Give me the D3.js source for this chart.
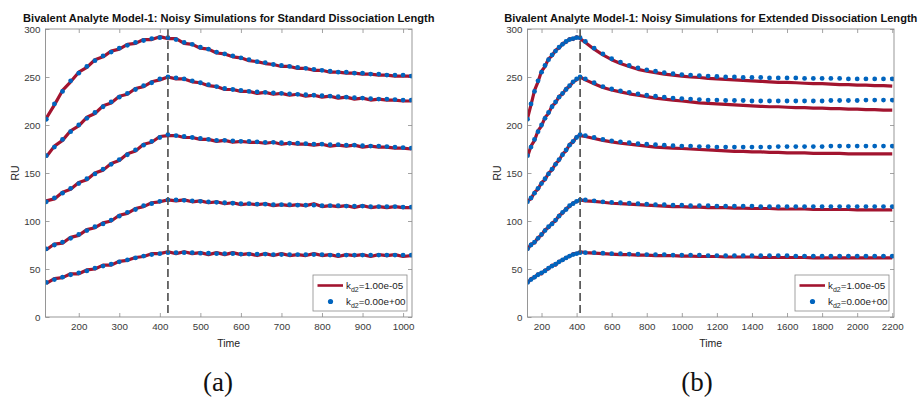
<!DOCTYPE html>
<html><head><meta charset="utf-8">
<script src="https://cdn.jsdelivr.net/npm/d3@7"></script>
<style>body{margin:0;background:#fff}svg{display:block}</style>
</head><body>
<svg id="c" width="920" height="403"></svg>
<script>
// ---------------- DATA ----------------
const yTicks = [0, 50, 100, 150, 200, 250, 300];
const xTicksStd = [200, 300, 400, 500, 600, 700, 800, 900, 1000];
const xTicksExt = [200, 400, 600, 800, 1000, 1200, 1400, 1600, 1800, 2000, 2200];
const injectionStop = 420;
const titleStd = "Bivalent Analyte Model-1: Noisy Simulations for Standard Dissociation Length";
const titleExt = "Bivalent Analyte Model-1: Noisy Simulations for Extended Dissociation Length";
const legendKd2 = ["1.00e-05", "0.00e+00"];
const captions = ["(a)", "(b)"];

// time points, standard dissociation length
const tStd = [120,140,160,180,200,220,240,260,280,300,320,340,360,380,400,420,440,460,480,500,520,540,560,580,600,620,640,660,680,700,720,740,760,780,800,820,840,860,880,900,920,940,960,980,1000,1020];
// kd2 = 1.00e-05 (red line), standard
const std1Red = [207,221,236,245,255,260,268,271,277,279,284,285,289,289,292,290,290,285,284,280,279,275,274,271,270,267,266,264,263,261,261,259,259,257,257,255,255,254,254,253,253,252,252,251,251,251];
const std2Red = [167,178,184,194,199,208,212,220,223,230,232,238,240,245,247,250,248,248,245,244,241,240,237,237,235,235,233,234,232,233,231,232,230,231,229,230,228,229,227,228,226,227,226,226,225,225];
const std3Red = [121,123,130,133,140,143,150,153,160,163,170,173,180,182,188,189,189,187,187,185,185,183,184,182,183,182,182,181,182,180,181,180,180,179,180,178,179,178,179,177,178,177,177,176,176,175];
const std4Red = [70,76,77,83,85,91,93,98,100,106,108,113,115,119,120,122,121,122,120,121,119,120,118,119,117,118,117,118,116,117,116,117,116,118,115,116,115,116,114,116,114,115,114,115,114,114];
const std5Red = [35,40,41,45,45,49,50,54,54,58,59,62,63,66,66,68,66,68,66,67,65,67,65,67,65,66,64,66,64,66,64,65,64,66,64,65,63,65,64,65,63,65,64,65,63,64];
// kd2 = 0.00e+00 (blue dots), standard
const std1Blue = [206,222,235,246,254,261,267,272,276,280,283,286,288,290,291,291,289,286,284,281,279,276,274,272,270,268,266,265,263,262,261,260,259,258,257,256,255,255,254,254,253,253,252,252,252,251];
const std2Blue = [168,177,185,193,200,207,213,219,224,229,233,237,241,244,248,250,249,248,246,244,242,240,238,237,236,235,234.5,234,233.5,233,232.5,232,231.5,231,230.5,230,229.5,229,228.5,228,227.5,227,227,226.5,226,226];
const std3Blue = [120,124,129,134,139,144,149,154,159,164,169,174,179,183,187,190,189,188,187,186,185,184,184,183.5,183,183,182.5,182,182,181.5,181,181,180.5,180,180,179.5,179.5,179,179,178.5,178,178,177.5,177,176.5,176];
const std4Blue = [71,75,78,82,86,90,94,97,101,105,109,112,116,118,120.5,122,122,121.5,121,120.5,120,119.5,119,118.5,118,118,117.5,117.5,117,117,117,116.5,116.5,116.5,116,116,116,115.5,115.5,115.5,115,115,115,115,114.5,114.5];
const std5Blue = [36,39,41.5,44,46,48,51,53,55,57.5,59.5,61.5,63.5,65,66,67,67,67,67,66.5,66.5,66,66,66,65.5,65.5,65.5,65.5,65,65,65,65,65,65,65,64.5,64.5,64.5,64.5,64.5,64.5,64.5,64.5,64.5,64.5,64.5];

// time points, extended dissociation length
const tExt = [120,140,160,180,200,220,240,260,280,300,320,340,360,380,400,420,450,500,550,600,650,700,750,800,850,900,950,1000,1050,1100,1150,1200,1250,1300,1350,1400,1450,1500,1550,1600,1650,1700,1750,1800,1850,1900,1950,2000,2050,2100,2150,2200];
// kd2 = 1.00e-05 (red line), extended
const ext1Red = [207,221,236,245,256,261,269,272,278,280,285,286,290,289,292,290,286,279,273,268,264,261,258,256,254.5,253,252,251,250,249.5,248.5,248,247.5,247,246.5,246,245.5,245,244.5,244.5,244,243.5,243,243,242.5,242,242,241.5,241.5,241,241,240.5];
const ext2Red = [167,178,184,194,199,208,212,220,223,230,232,238,240,245,247,250,247,243,239,236.5,234.5,232.5,231,229.5,228,227,226,225,224,223,222.5,222,221.5,221,220.5,220,219.5,219,219,218.5,218,218,217.5,217.5,217,217,216.5,216.5,216,216,215.5,215.5];
const ext3Red = [121,123,130,133,140,143,150,153,160,163,170,173,180,182,188,189,188,186,184,182.5,181,180,179,178,177,176.5,176,175.5,175,174.5,174,173.5,173,172.5,172.5,172,172,171.5,171.5,171,171,171,170.5,170.5,170.5,170.5,170,170,170,170,170,170];
const ext4Red = [70,76,77,83,85,91,93,98,100,106,108,113,115,119,120,122,121,120.5,119.5,118.5,118,117.5,117,116.5,116,115.5,115,115,114.5,114.5,114,114,114,113.5,113.5,113,113,113,112.5,112.5,112.5,112.5,112,112,112,112,112,111.5,111.5,111.5,111.5,111.5];
const ext5Red = [35,40,41,45,45,49,50,54,54,58,59,62,63,66,66,68,67,66.5,66,65.5,65,65,64.5,64.5,64,64,64,63.5,63.5,63,63,63,62.5,62.5,62.5,62.5,62,62,62,62,62,62,61.5,61.5,61.5,61.5,61.5,61.5,61.5,61.5,61.5,61.5];
// kd2 = 0.00e+00 (blue dots), extended
const ext1Blue = [206,222,235,246,255,262,268,273,277,281,284,287,289,290,291,291,287,280,274,269,265.5,262,259.5,257.5,256,254.5,253.5,252.5,252,251.5,251,250.5,250,250,249.5,249.5,249.5,249,249,249,249,248.5,248.5,248.5,248.5,248.5,248,248,248,248,248,248];
const ext2Blue = [168,177,185,193,200,207,213,219,224,229,233,237,241,245,248,250,248,244,240,237.5,235.5,234,232.5,231,230,229,228,227.5,227,226.5,226,226,225.5,225.5,225.5,225,225,225,225,225,225,225,225,225,225.5,225.5,225.5,225.5,226,226,226,226];
const ext3Blue = [120,124,129,134,139,144,149,154,159,164,169,174,179,183,187,190,189,187,185,183.5,182.5,181.5,180.5,180,179.5,179,178.5,178,178,177.5,177.5,177,177,177,177,177,177,177,177.5,177.5,177.5,177.5,177.5,177.5,178,178,178,178,178,178,178,178];
const ext4Blue = [71,75,78,82,86,90,94,97,101,105,109,112,116,118,120.5,122,122,121,120,119.5,119,118.5,118,117.5,117,117,116.5,116.5,116,116,116,115.5,115.5,115.5,115.5,115.5,115,115,115,115,115,115,115,115,115,115,115,115,115,115,115,115];
const ext5Blue = [36,39,41.5,44,46,48,51,53,55,57.5,59.5,61.5,63.5,65,66,67,67,67,66.5,66,66,65.5,65.5,65,65,65,64.5,64.5,64.5,64.5,64,64,64,64,64,64,64,64,64,64,63.5,63.5,63.5,63.5,63.5,63.5,63.5,63.5,63.5,63.5,63.5,63.5];

// ---------------- STYLE ----------------
const RED = "#A2142F", BLUE = "#0064BE";
const SANS = "'Liberation Sans', Arial, Helvetica, sans-serif";
const AXIS = "#8c8c8c", TXT = "#3a3a3a";

const svg = d3.select("#c");

function drawPanel(p) {
  const x = d3.scaleLinear().domain(p.domain).range([p.x0, p.x1]);
  const y = d3.scaleLinear().domain([0, 300]).range([p.y1, p.y0]);
  const g = svg.append("g");
  const fmt = d3.format("d");

  const styleAxis = sel => {
    sel.select(".domain").remove();
    sel.selectAll(".tick line").attr("stroke", AXIS).attr("stroke-width", 0.8);
    sel.selectAll(".tick text").attr("fill", TXT).style("font-family", SANS).style("font-size", "9.8px");
  };
  g.append("g").attr("transform", `translate(0,${p.y1})`)
    .call(d3.axisBottom(x).tickValues(p.xTicks).tickFormat(fmt).tickSizeInner(-4).tickSizeOuter(0).tickPadding(6)).call(styleAxis);
  g.append("g").attr("transform", `translate(0,${p.y0})`)
    .call(d3.axisTop(x).tickValues(p.xTicks).tickSizeInner(-4).tickSizeOuter(0).tickFormat(() => "")).call(styleAxis);
  g.append("g").attr("transform", `translate(${p.x0},0)`)
    .call(d3.axisLeft(y).tickValues(yTicks).tickFormat(fmt).tickSizeInner(-4).tickSizeOuter(0).tickPadding(5)).call(styleAxis);
  g.append("g").attr("transform", `translate(${p.x1},0)`)
    .call(d3.axisRight(y).tickValues(yTicks).tickSizeInner(-4).tickSizeOuter(0).tickFormat(() => "")).call(styleAxis);

  const clipId = "clip" + p.id;
  svg.append("clipPath").attr("id", clipId).append("rect")
    .attr("x", p.x0).attr("y", p.y0).attr("width", p.x1 - p.x0).attr("height", p.y1 - p.y0);
  const plot = g.append("g").attr("clip-path", `url(#${clipId})`);

  const line = d3.line().x((d, i) => x(p.times[i])).y(d => y(d));
  p.red.forEach(arr => {
    plot.append("path").datum(arr).attr("d", line)
      .attr("fill", "none").attr("stroke", RED).attr("stroke-width", 3.2).attr("stroke-linejoin", "round");
  });
  p.blue.forEach(arr => {
    plot.append("g").selectAll("circle").data(arr).join("circle")
      .attr("cx", (d, i) => x(p.times[i])).attr("cy", d => y(d)).attr("r", 2.4).attr("fill", BLUE);
  });

  // end of association phase
  plot.append("line").attr("x1", x(injectionStop)).attr("x2", x(injectionStop))
    .attr("y1", y(300)).attr("y2", y(0))
    .attr("stroke", "#555").attr("stroke-width", 1.7).attr("stroke-dasharray", "8,4");

  // frame
  g.append("rect").attr("x", p.x0).attr("y", p.y0).attr("width", p.x1 - p.x0).attr("height", p.y1 - p.y0)
    .attr("fill", "none").attr("stroke", AXIS).attr("stroke-width", 0.9);

  // title
  const t = g.append("text").attr("x", (p.x0 + p.x1) / 2).attr("y", 22).attr("text-anchor", "middle")
    .style("font-family", SANS).style("font-weight", "bold").style("font-size", "10px").attr("fill", "#111").text(p.title);
  const w = t.node().getComputedTextLength();
  t.style("font-size", (10 * p.titleW / w) + "px");

  // axis labels
  g.append("text").attr("x", (p.x0 + p.x1) / 2).attr("y", 347).attr("text-anchor", "middle")
    .style("font-family", SANS).style("font-size", "10.5px").attr("fill", "#222").text("Time");
  g.append("text").attr("transform", `translate(${p.x0 - 27},${(p.y0 + p.y1) / 2}) rotate(-90)`)
    .attr("text-anchor", "middle").style("font-family", SANS).style("font-size", "10.5px").attr("fill", "#222").text("RU");

  // legend
  const lw = 94, lh = 36;
  const lx = p.x1 - 5 - lw, ly = p.y1 - 6 - lh;
  const lg = g.append("g");
  lg.append("rect").attr("x", lx).attr("y", ly).attr("width", lw).attr("height", lh)
    .attr("fill", "#fff").attr("stroke", "#8a8a8a").attr("stroke-width", 0.8);
  lg.append("line").attr("x1", lx + 4.5).attr("x2", lx + 30).attr("y1", ly + 10.5).attr("y2", ly + 10.5)
    .attr("stroke", RED).attr("stroke-width", 2.6);
  lg.append("circle").attr("cx", lx + 17.5).attr("cy", ly + 26.5).attr("r", 2.6).attr("fill", BLUE);
  legendKd2.forEach((v, i) => {
    const tx = lg.append("text").attr("x", lx + 33).attr("y", ly + 13.5 + i * 16)
      .style("font-family", SANS).style("font-size", "9.8px").attr("fill", "#222");
    tx.append("tspan").text("k");
    tx.append("tspan").attr("dy", 3).style("font-size", "7px").text("d2");
    tx.append("tspan").attr("dy", -3).text("=" + v);
  });

  // caption
  svg.append("text").attr("x", p.capX).attr("y", 391).attr("text-anchor", "middle")
    .style("font-family", "'Liberation Serif', 'DejaVu Serif', serif").style("font-size", "27px")
    .attr("fill", "#111").text(p.caption);
}

drawPanel({
  id: "a", x0: 45.5, x1: 412, y0: 29, y1: 317, domain: [118, 1022],
  times: tStd, red: [std1Red, std2Red, std3Red, std4Red, std5Red],
  blue: [std1Blue, std2Blue, std3Blue, std4Blue, std5Blue],
  xTicks: xTicksStd, title: titleStd, titleW: 412, caption: captions[0], capX: 218
});
drawPanel({
  id: "b", x0: 527.5, x1: 894, y0: 29, y1: 317, domain: [120, 2210],
  times: tExt, red: [ext1Red, ext2Red, ext3Red, ext4Red, ext5Red],
  blue: [ext1Blue, ext2Blue, ext3Blue, ext4Blue, ext5Blue],
  xTicks: xTicksExt, title: titleExt, titleW: 414, caption: captions[1], capX: 697
});
</script>
</body></html>
